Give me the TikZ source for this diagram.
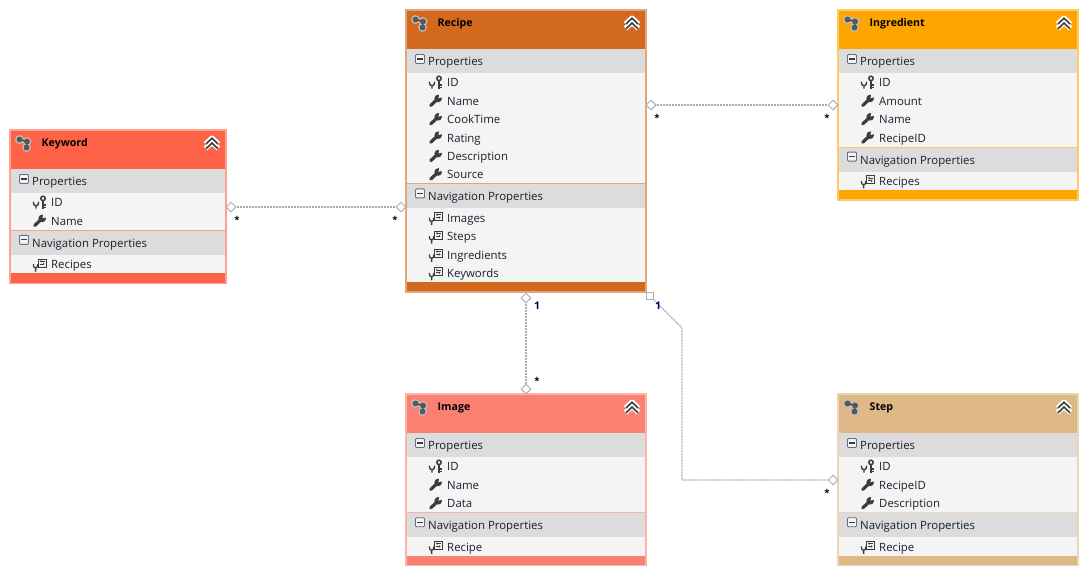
\documentclass[tikz,border=0pt]{standalone}
\usepackage{fontspec}
\setmainfont{Open Sans}
\usetikzlibrary{shapes.geometric,arrows.meta}
\definecolor{band color}{HTML}{DCDCDC}
\definecolor{row color}{HTML}{F4F4F4}
\definecolor{text color}{HTML}{1E1E30}
\definecolor{icon color}{HTML}{3C3C3C}
\definecolor{link color}{HTML}{A3AEBD}
\definecolor{end color}{HTML}{A6AFBA}
\definecolor{minus color}{HTML}{5F7088}
\definecolor{keyword color}{HTML}{FF6347}
\definecolor{recipe color}{HTML}{D2691E}
\definecolor{ingredient color}{HTML}{FFA500}
\definecolor{image color}{HTML}{FA8072}
\definecolor{step color}{HTML}{DEB887}
\tikzset{
    x={1pt},
    y={-1pt},
    entity box/.style={
        fill={#1},
        draw={#1!60!white},
        line width={1.4pt},
    },
    separator/.style={
        draw={#1!60!white},
        line width={1pt},
    },
    entity title/.style={
        font={\fontsize{10.6}{12}\selectfont\bfseries},
        anchor=base west,
        inner sep=0pt,
    },
    section label/.style={
        font={\fontsize{11.4}{14}\selectfont},
        text={text color},
        anchor=base west,
        inner sep=0pt,
    },
    row label/.style={
        section label,
    },
    link/.style={
        draw={link color},
        line width={1.1pt},
        dash pattern=on 2pt off 1pt,
    },
    link end/.style={
        diamond, draw={end color}, fill=white,
        line width={1pt},
        inner sep=0pt,
        minimum width={10},
        minimum height={10},
    },
    link start/.style={
        rectangle, draw={end color}, fill=white,
        line width={1pt},
        inner sep=0pt,
        minimum size={7},
    },
    many label/.style={
        font={\fontsize{9.5}{10}\selectfont\bfseries},
        text=black,
        inner sep=0pt,
    },
    one label/.style={
        font={\fontsize{10.5}{10}\selectfont\bfseries},
        text={blue!35!black},
        inner sep=0pt,
    },
    minus icon/.pic={
        \draw[fill=row color, draw=minus color, line width={0.9pt}, rounded corners=1pt] (-4.5,-4.5) rectangle (4.5,4.5);
        \draw[icon color, line width={1.2pt}] (-2.6,0) -- (2.6,0);
    },
    wrench icon/.pic={
        \draw[icon color, line width={3.2pt}, line cap=round] (-5.2,4.8) -- (1.5,-1.5);
        \fill[icon color] (2.2,-2.2) circle[radius=3.8];
        \fill[row color] (2.4,-2.4) -- (3.6,-7) -- (7.5,-3.6) -- cycle;
    },
    key icon/.pic={
        \draw[icon color, line width={1.5pt}] (3,-3.8) circle[radius=2.2];
        \draw[icon color, line width={1.6pt}] (3,-1.6) -- (3,6.5) (3,2.5) -- (6,2.5) (3,5.2) -- (6,5.2);
        \draw[icon color, line width={1.4pt}] (-6.5,-0.5) -- (-6.5,1) arc[start angle=180, end angle=0, radius=2.5] -- (-1.5,-0.5) (-4,3.5) -- (-4,6.5);
    },
    nav icon/.pic={
        \draw[icon color, line width={1pt}, fill=row color] (-2,-5) rectangle (6,3);
        \draw[icon color, line width={0.8pt}, -{Stealth[length=1.6pt,width=2.6pt]}] (4.5,-2.8) -- (0,-2.8);
        \draw[icon color, line width={0.8pt}, -{Stealth[length=1.6pt,width=2.6pt]}] (0,0) -- (4.5,0);
        \fill[row color] (-7.5,-0.5) rectangle (-2.5,5);
        \draw[icon color, line width={1.3pt}] (-6.6,0) -- (-6.6,1.6) arc[start angle=180, end angle=0, radius=2.2] -- (-2.2,0) (-4.4,3.8) -- (-4.4,7.5);
    },
    entity icon/.pic={
        \foreach \blobx/\bloby in {-4.5/-3.5, 3/-1.5, 2.5/4.5}{
            \fill[white!75!black] (\blobx,\bloby) circle[radius=4.4];
        }
        \draw[icon color, line width={1.4pt}] (-4.5,-3.5) -- (3,-1.5) -- (2.5,4.5);
        \foreach \blobx/\bloby in {-4.5/-3.5, 3/-1.5, 2.5/4.5}{
            \fill[black!65] (\blobx,\bloby) circle[radius=3];
        }
    },
    collapse icon/.pic={
        \draw[white, line width={5pt}, line join=round] (-6.5,1) -- (0,-5) -- (6.5,1) (-6.5,5.5) -- (0,-0.5) -- (6.5,5.5);
        \draw[icon color, line width={1.6pt}] (-6,1) -- (0,-4.8) -- (6,1) (-6,5.8) -- (0,0) -- (6,5.8);
    },
}
% entity box: name, x, y, width, colour, title, properties, navigation properties
\newcommand{\entity}[8]{
    \pgfmathsetmacro{\rowstart}{#3+63}
    \foreach \rowname [count=\n from 0] in {#7}{\xdef\propcount{\n}}
    \pgfmathsetmacro{\navtop}{#3+63+18.4*(\propcount+1)+1}
    \foreach \rowname [count=\n from 0] in {#8}{\xdef\navcount{\n}}
    \pgfmathsetmacro{\footertop}{\navtop+24+18.4*(\navcount+1)}
    \pgfmathsetmacro{\entitybottom}{\footertop+10}
    \path[entity box={#5}] (#2,#3) rectangle (#2+#4,\entitybottom);
    \fill[row color] (#2+1.4,#3+39) rectangle (#2+#4-1.4,\footertop);
    \fill[band color] (#2+1.4,#3+39) rectangle (#2+#4-1.4,#3+63);
    \fill[band color] (#2+1.4,\navtop) rectangle (#2+#4-1.4,\navtop+24);
    \draw[separator={#5}] (#2+1.4,\navtop-0.5) -- (#2+#4-1.4,\navtop-0.5);
    \pic at (#2+14,#3+13) {entity icon};
    \pic at (#2+#4-14,#3+13) {collapse icon};
    \node[entity title, text={\ifx#1recipe white\else black\fi}] (#1 title) at (#2+31.5,#3+16.5) {#6};
    \pic at (#2+14,#3+49) {minus icon};
    \node[section label] (#1 properties) at (#2+22,#3+55.5) {Properties};
    \pic at (#2+14,\navtop+9) {minus icon};
    \node[section label] (#1 navigation) at (#2+22,\navtop+16.5) {Navigation Properties};
    \foreach \rowname [count=\n from 0] in {#7}{
        \pgfmathsetmacro{\rowy}{\rowstart+9.2+18.4*\n}
        \ifnum\n=0
            \pic at (#2+30,\rowy) {key icon};
        \else
            \pic at (#2+30,\rowy) {wrench icon};
        \fi
        \node[row label] (#1 \rowname) at (#2+41,\rowy+4.6) {\rowname};
    }
    \foreach \rowname [count=\n from 0] in {#8}{
        \pgfmathsetmacro{\rowy}{\navtop+24+9.2+18.4*\n}
        \pic at (#2+30,\rowy) {nav icon};
        \node[row label] (#1 nav \rowname) at (#2+41,\rowy+4.6) {\rowname};
    }
}

\begin{document}
\begin{tikzpicture}
\useasboundingbox (0,0) rectangle (1087,574);
% entities
\entity{keyword}{10}{130}{216}{keyword color}{Keyword}{ID,Name}{Recipes}
\entity{recipe}{406}{10}{240}{recipe color}{Recipe}{ID,Name,CookTime,Rating,Description,Source}{Images,Steps,Ingredients,Keywords}
\entity{ingredient}{838}{10}{240}{ingredient color}{Ingredient}{ID,Amount,Name,RecipeID}{Recipes}
\entity{image}{406}{394}{240}{image color}{Image}{ID,Name,Data}{Recipe}
\entity{step}{838}{394}{240}{step color}{Step}{ID,RecipeID,Description}{Recipe}
% association ends
\node[link end] (recipe right) at (651,105) {};
\node[link end] (ingredient left) at (833,105) {};
\node[link end] (keyword right) at (231,207) {};
\node[link end] (recipe left) at (401,207) {};
\node[link end] (recipe bottom) at (526,298) {};
\node[link end] (image top) at (526,389) {};
\node[link start] (recipe corner) at (650,296) {};
\node[link end] (step left) at (833,480) {};
\coordinate (step bend) at (682,328);
% associations
\draw[link] (recipe right) -- (ingredient left);
\draw[link] (keyword right) -- (recipe left);
\draw[link] (recipe bottom) -- (image top);
\draw[link] (recipe corner) -- (step bend) |- (step left);
% multiplicities
\node[many label] (recipe right many) at (657,118) {*};
\node[many label] (ingredient many) at (827,118) {*};
\node[many label] (keyword many) at (237,219.5) {*};
\node[many label] (recipe left many) at (395,219.5) {*};
\node[many label] (image many) at (537,380.5) {*};
\node[many label] (step many) at (827,493) {*};
\node[one label] (recipe bottom one) at (537,306) {1};
\node[one label] (recipe corner one) at (658,306) {1};
\end{tikzpicture}
\end{document}
